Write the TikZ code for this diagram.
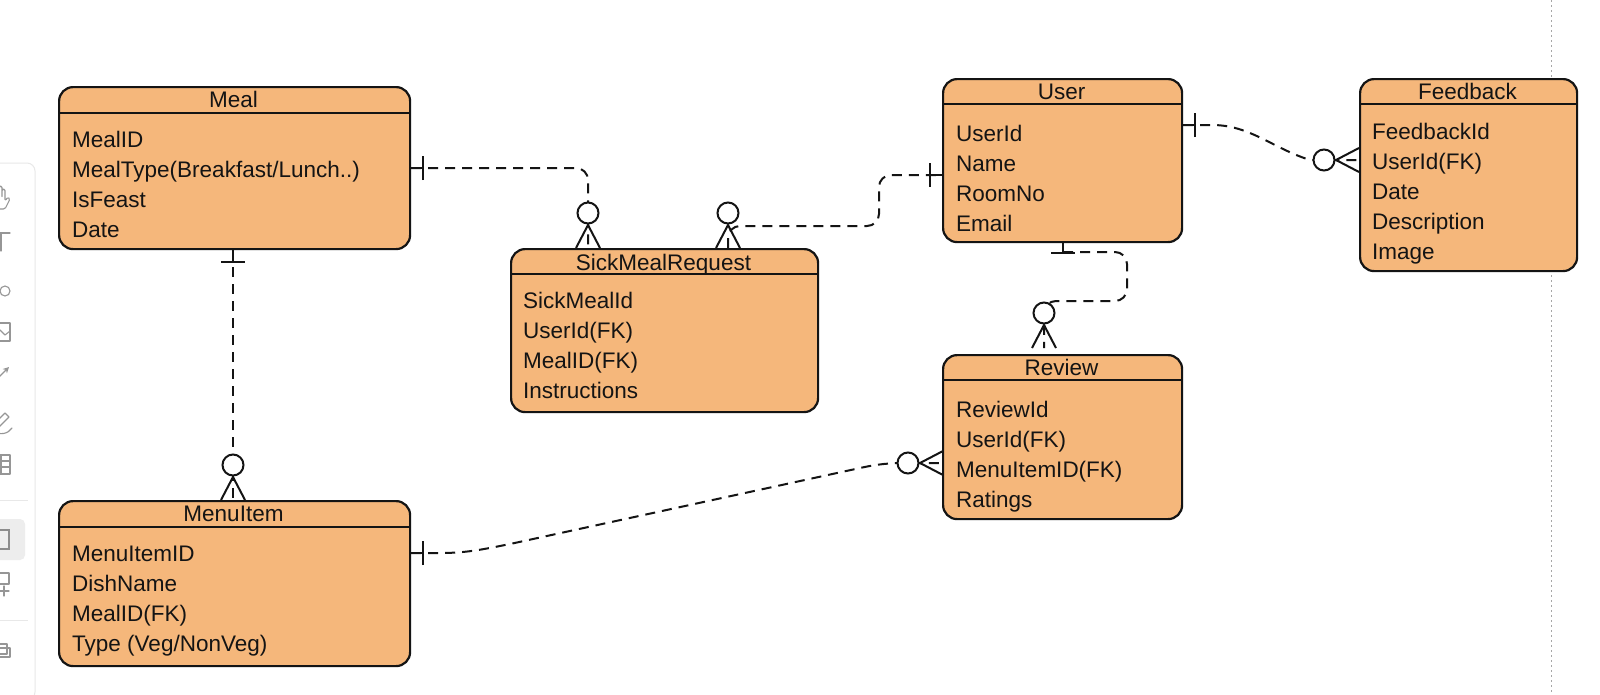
\documentclass[tikz,border=0pt]{standalone}
\usepackage{fontspec}
\setmainfont{Liberation Sans}
\usetikzlibrary{arrows.meta}
\definecolor{peach}{RGB}{245,183,123}
\definecolor{ink}{RGB}{20,20,20}
\definecolor{toolgray}{RGB}{150,150,150}
\definecolor{panelline}{RGB}{232,232,232}
\tikzset{
 entity/.style={draw=ink, line width=2.2pt, fill=peach, rounded corners=14pt, rectangle, anchor=north west, inner sep=0pt},
 ttl/.style={anchor=base, font=\fontsize{22.5}{26}\selectfont, inner sep=0pt, text=ink},
 attr/.style={anchor=base west, font=\fontsize{22.5}{26}\selectfont, inner sep=0pt, text=ink},
 rel/.style={draw=ink, line width=2pt, dash pattern=on 10pt off 7pt, rounded corners=12pt},
 mk/.style={draw=ink, line width=2pt},
 zc/.style={draw=ink, line width=2pt, fill=white},
 tool/.style={draw=toolgray, line width=1.1pt, line join=round, line cap=round},
 crow/.pic={
   \draw[mk] (-12,35) -- (0,12) -- (12,35);
   \draw[zc] (0,0) circle[radius=10.5];
 },
 one/.pic={
   \draw[mk] (0,0) -- (0,12);
   \draw[mk] (-12,12) -- (12,12);
 }
}
\begin{document}
\begin{tikzpicture}[x=1pt,y=-1pt]
\useasboundingbox[fill=white] (0,0) rectangle (1600,694);

% ---- left toolbar (cut off) ----
\draw[draw=panelline, line width=1pt, fill=white, rounded corners=8pt] (-12,163) rectangle (35,700);
\fill[black!7, rounded corners=5pt] (-12,519) rectangle (25,560);
% hand
\draw[tool, rounded corners=1.5pt] (-7,206) -- (-7,193) -- (-4,193) -- (-4,199) -- (-4,188) -- (-1,188) -- (-1,198) -- (-1,186) -- (2,186) -- (2,198) -- (2,189) -- (5,189) -- (5,201) -- (8,197) -- (10,199) -- (5,209) -- (-5,209);
% text tool
\draw[tool] (-9,233) -- (10,233); \draw[tool] (1,233) -- (1,251);
% ellipse
\draw[tool] (5,291) circle[radius=5];
% image
\draw[tool] (-7,323) rectangle (10,341);
\draw[tool] (-7,338) -- (0,330) -- (5,335) -- (10,331);
% arrow
\draw[tool, -{Stealth[length=6pt,width=6pt]}] (-5,381) -- (9,367);
% pencil
\draw[tool] (-6,424) -- (5,413) -- (9,417) -- (-2,428) -- (-7,429) -- cycle;
\draw[tool] (-9,430) .. controls (0,436) and (8,434) .. (12,428);
% table
\draw[tool] (-7,455) rectangle (10,474);
\draw[tool] (-7,461) -- (10,461); \draw[tool] (-7,467) -- (10,467);
\draw[tool] (1,455) -- (1,474);
% separator
\draw[panelline, line width=1pt] (-12,500) -- (28,500);
% rectangle (selected)
\draw[draw=black!45, line width=1.2pt] (-7,530) rectangle (9,549);
% add shape
\draw[tool] (-3,573) rectangle (9,584);
\draw[tool] (4,586) -- (4,596); \draw[tool] (-1,591) -- (9,591);
% separator
\draw[panelline, line width=1pt] (-12,620) -- (28,620);
% layers
\draw[tool] (-5,644) rectangle (7,654);
\draw[tool] (0,648) -- (10,648) -- (10,657) -- (0,657);

% ---- right dotted guide ----
\draw[draw=black!35, line width=1pt, dash pattern=on 2pt off 3pt] (1551,0) -- (1551,694);

% ---- entities ----
% Meal
\node[entity, minimum width=351pt, minimum height=162pt] (meal) at (58,86) {};
\draw[ink, line width=2pt] (58,113) -- (409,113);
\node[ttl] (mealT) at (233.5,107) {Meal};
\node[attr] (meal1) at (72,147) {MealID};
\node[attr] (meal2) at (72,177) {MealType(Breakfast/Lunch..)};
\node[attr] (meal3) at (72,207) {IsFeast};
\node[attr] (meal4) at (72,237) {Date};

% MenuItem
\node[entity, minimum width=351pt, minimum height=165pt] (menu) at (58,500) {};
\draw[ink, line width=2pt] (58,527) -- (409,527);
\node[ttl] (menuT) at (233.5,521) {MenuItem};
\node[attr] (menu1) at (72,561) {MenuItemID};
\node[attr] (menu2) at (72,591) {DishName};
\node[attr] (menu3) at (72,621) {MealID(FK)};
\node[attr] (menu4) at (72,651) {Type (Veg/NonVeg)};

% SickMealRequest
\node[entity, minimum width=307pt, minimum height=163pt] (sick) at (510,248) {};
\draw[ink, line width=2pt] (510,274) -- (817,274);
\node[ttl] (sickT) at (663.5,270) {SickMealRequest};
\node[attr] (sick1) at (523,308) {SickMealId};
\node[attr] (sick2) at (523,338) {UserId(FK)};
\node[attr] (sick3) at (523,368) {MealID(FK)};
\node[attr] (sick4) at (523,398) {Instructions};

% User
\node[entity, minimum width=239pt, minimum height=163pt] (user) at (942,78) {};
\draw[ink, line width=2pt] (942,104) -- (1181,104);
\node[ttl] (userT) at (1061.5,99) {User};
\node[attr] (user1) at (956,141) {UserId};
\node[attr] (user2) at (956,171) {Name};
\node[attr] (user3) at (956,201) {RoomNo};
\node[attr] (user4) at (956,231) {Email};

% Review
\node[entity, minimum width=239pt, minimum height=164pt] (review) at (942,354) {};
\draw[ink, line width=2pt] (942,380) -- (1181,380);
\node[ttl] (reviewT) at (1061.5,375) {Review};
\node[attr] (review1) at (956,417) {ReviewId};
\node[attr] (review2) at (956,447) {UserId(FK)};
\node[attr] (review3) at (956,477) {MenuItemID(FK)};
\node[attr] (review4) at (956,507) {Ratings};

% Feedback
\node[entity, minimum width=217pt, minimum height=192pt] (feed) at (1359,78) {};
\draw[ink, line width=2pt] (1359,104) -- (1576,104);
\node[ttl] (feedT) at (1467.5,99) {Feedback};
\node[attr] (feed1) at (1372,139) {FeedbackId};
\node[attr] (feed2) at (1372,169) {UserId(FK)};
\node[attr] (feed3) at (1372,199) {Date};
\node[attr] (feed4) at (1372,229) {Description};
\node[attr] (feed5) at (1372,259) {Image};

% ---- connector end points on the entities ----
\coordinate (mealR) at ([yshift=-82pt]meal.north east);
\coordinate (mealB) at ([xshift=175pt]meal.south west);
\coordinate (menuT1) at ([xshift=175pt]menu.north west);
\coordinate (menuR) at ([yshift=-53pt]menu.north east);
\coordinate (sickT1) at ([xshift=78pt]sick.north west);
\coordinate (sickT2) at ([xshift=218pt]sick.north west);
\coordinate (userL) at ([yshift=-97pt]user.north west);
\coordinate (userR) at ([yshift=-47pt]user.north east);
\coordinate (userB) at ([xshift=121pt]user.south west);
\coordinate (reviewT1) at ([xshift=102pt,yshift=6pt]review.north west);
\coordinate (reviewL) at ([yshift=-109pt]review.north west);
\coordinate (feedL) at ([yshift=-82pt]feed.north west);

% ---- connectors ----
% Meal -> SickMealRequest
\draw[rel] (mealR) -- (588,168) -- (sickT1);
% SickMealRequest -> User
\draw[rel] (sickT2) -- (728,226) -- (879,226) -- (879,175) -- (userL);
% User -> Feedback
\draw[rel, rounded corners=0pt] (userR) -- (1212,125) .. controls (1250,125) and (1272,148) .. (1310,160) -- (feedL);
% Meal -> MenuItem
\draw[rel] (mealB) -- (menuT1);
% MenuItem -> Review
\draw[rel, rounded corners=0pt] (menuR) -- (440,553) .. controls (465,553) and (480,550) .. (510,544) -- (860,468) .. controls (878,464) and (890,463) .. (905,463) -- (reviewL);
% User -> Review
\draw[mk] (userB) -- (1063,253);
\draw[rel] (1063,252) -- (1127,252) -- (1127,301) -- (1044,301) -- (reviewT1);

% ---- cardinality marks ----
\pic[rotate=90] at (mealR) {one};
\pic[rotate=-90] at (userL) {one};
\pic[rotate=90] at (userR) {one};
\pic at (mealB) {one};
\pic[rotate=90] at (menuR) {one};
\draw[mk] (1051,253) -- (1075,253);

\pic at (588,213) {crow};
\pic at (728,213) {crow};
\pic at (233,465) {crow};
\pic at (1044,313) {crow};
\pic[rotate=90] at (908,463) {crow};
\pic[rotate=90] at (1324,160) {crow};
\end{tikzpicture}
\end{document}
